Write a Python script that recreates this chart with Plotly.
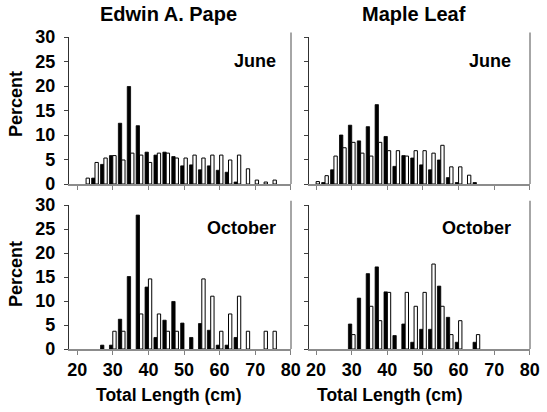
import plotly.graph_objects as go

# Length classes (cm)
lengths = [20, 22.5, 25, 27.5, 30, 32.5, 35, 37.5, 40, 42.5, 45, 47.5, 50,
           52.5, 55, 57.5, 60, 62.5, 65, 67.5, 70, 72.5, 75, 77.5, 80]

# Edwin A. Pape - June
pape_june_black = [0, 0, 1.2, 4.0, 5.8, 12.4, 19.9, 11.9, 6.5, 5.9, 6.5, 5.6, 3.7,
                   3.9, 2.9, 3.7, 2.8, 2.4, 0.4, 0, 0, 0, 0, 0, 0]
pape_june_white = [0, 1.2, 4.4, 5.3, 5.8, 4.9, 6.3, 5.9, 4.4, 6.3, 6.3, 5.3, 5.3,
                   5.9, 5.3, 5.9, 5.9, 4.9, 5.9, 3.1, 0.8, 0.4, 0.8, 0, 0]
# Maple Leaf - June
maple_june_black = [0, 0.3, 2.9, 10.0, 12.0, 8.8, 11.7, 16.2, 9.7, 3.6, 5.8, 5.3, 3.9,
                    2.9, 4.9, 1.3, 0.3, 0, 0.3, 0, 0, 0, 0, 0, 0]
maple_june_white = [0.5, 1.7, 5.7, 7.4, 8.5, 6.3, 5.7, 8.5, 6.8, 6.8, 5.7, 6.8, 6.8,
                    6.3, 7.9, 3.5, 3.5, 1.8, 0, 0, 0, 0, 0, 0, 0]
# Edwin A. Pape - October
pape_oct_black = [0, 0, 0, 0.8, 0.8, 6.2, 15.1, 27.9, 12.9, 2.4, 6.0, 9.9, 5.4,
                  2.4, 5.3, 3.9, 0.8, 0.8, 2.4, 0, 0, 0, 0, 0, 0]
pape_oct_white = [0, 0, 0, 0, 3.7, 3.7, 0, 7.3, 14.6, 7.3, 3.7, 3.7, 0,
                  0, 14.6, 11.0, 3.7, 7.3, 11.0, 3.7, 0, 3.7, 3.7, 0, 0]
# Maple Leaf - October
maple_oct_black = [0, 0, 0, 0, 5.2, 10.6, 15.7, 17.1, 11.9, 2.8, 5.2, 1.4, 4.1,
                   4.1, 13.1, 6.6, 1.4, 0, 1.4, 0, 0, 0, 0, 0, 0]
maple_oct_white = [0, 0, 0, 0, 3.0, 0, 8.9, 5.9, 11.8, 0, 11.8, 8.9, 11.8,
                   17.7, 8.9, 3.0, 5.9, 0, 3.0, 0, 0, 0, 0, 0, 0]

x_ticks = [20, 30, 40, 50, 60, 70, 80]
y_ticks = [0, 5, 10, 15, 20, 25, 30]
col_titles = ["Edwin A. Pape", "Maple Leaf"]
month_labels = ["June", "October"]

W, H = 547, 412
FONT = "Arial, Liberation Sans, sans-serif"

panels = [
    # (axis suffix, black, white, col, row)
    ("", pape_june_black, pape_june_white, 0, 0),
    ("2", maple_june_black, maple_june_white, 1, 0),
    ("3", pape_oct_black, pape_oct_white, 0, 1),
    ("4", maple_oct_black, maple_oct_white, 1, 1),
]

xdom = [[69 / W, 291 / W], [309 / W, 530 / W]]
ydom = [[1 - 184 / H, 1 - 37 / H], [1 - 349 / H, 1 - 205 / H]]
xrng = [[17.7, 80.05], [18.0, 80.05]]

fig = go.Figure()
layout = dict(
    width=W, height=H, margin=dict(l=0, r=0, t=0, b=0, pad=0, autoexpand=False),
    paper_bgcolor="white", plot_bgcolor="white",
    barmode="group", bargap=0.25, bargroupgap=0,
    showlegend=False,
    font=dict(family=FONT, size=18, color="black"),
)
shapes = []
annotations = []

for suffix, blk, wht, col, row in panels:
    xa = "x" + suffix
    ya = "y" + suffix
    fig.add_trace(go.Bar(x=lengths, y=[v if v else None for v in blk], name="black",
                         marker=dict(color="black", line=dict(color="black", width=0.8)),
                         xaxis=xa, yaxis=ya))
    fig.add_trace(go.Bar(x=lengths, y=[v if v else None for v in wht], name="white",
                         marker=dict(color="white", line=dict(color="black", width=1)),
                         xaxis=xa, yaxis=ya))
    layout["xaxis" + suffix] = dict(
        domain=xdom[col], range=xrng[col], anchor=ya, automargin=False,
        tickmode="array", tickvals=x_ticks, ticktext=[str(t) for t in x_ticks],
        showticklabels=(row == 1), ticks="outside", ticklen=4, tickwidth=1,
        tickcolor="#808080", showline=True, linecolor="#8c8c8c", linewidth=1.5,
        showgrid=False, zeroline=False,
        tickfont=dict(family=FONT, size=18, color="black", weight="bold"),
        ticklabelstandoff=0,
    )
    layout["yaxis" + suffix] = dict(
        domain=ydom[row], range=[0, 30], anchor=xa, automargin=False,
        tickmode="array", tickvals=y_ticks, ticktext=[str(t) for t in y_ticks],
        showticklabels=(col == 0), ticks="outside", ticklen=4, tickwidth=1,
        tickcolor="#404040", showline=True, linecolor="#303030", linewidth=1.2,
        showgrid=False, zeroline=False,
        tickfont=dict(family=FONT, size=18, color="black", weight="bold"),
        ticklabelstandoff=5,
    )
    # right-hand plot-area border
    shapes.append(dict(type="line", xref=xa + " domain", yref=ya + " domain",
                       x0=1, x1=1, y0=0, y1=1.03,
                       line=dict(color="#a6a6a6", width=2)))
    annotations.append(dict(text="<b>" + month_labels[row] + "</b>",
                            xref=xa + " domain", yref=ya + " domain",
                            x=0.94 if col == 0 else 0.925, y=0.84,
                            xanchor="right", yanchor="middle", showarrow=False,
                            font=dict(family=FONT, size=18, color="black")))

# Column titles
for cx, t in zip([168, 414], col_titles):
    annotations.append(dict(text="<b>" + t + "</b>", xref="paper", yref="paper",
                            x=cx / W, y=1 - 14 / H, xanchor="center", yanchor="middle",
                            showarrow=False, font=dict(family=FONT, size=20, color="black")))
# X axis titles
for cx in [169, 390]:
    annotations.append(dict(text="<b>Total Length (cm)</b>", xref="paper", yref="paper",
                            x=cx / W, y=1 - 395 / H, xanchor="center", yanchor="middle",
                            showarrow=False, font=dict(family=FONT, size=17.5, color="black")))
# Y axis titles
for cy in [104, 274]:
    annotations.append(dict(text="<b>Percent</b>", xref="paper", yref="paper",
                            x=16 / W, y=1 - cy / H, xanchor="center", yanchor="middle",
                            textangle=-90, showarrow=False,
                            font=dict(family=FONT, size=18, color="black")))

layout["shapes"] = shapes
layout["annotations"] = annotations
fig.update_layout(**layout)
fig.write_html("out.html",
               config={"displayModeBar": False},
               post_script="document.body.style.margin='0px';"
                           "document.body.style.overflow='hidden';")
